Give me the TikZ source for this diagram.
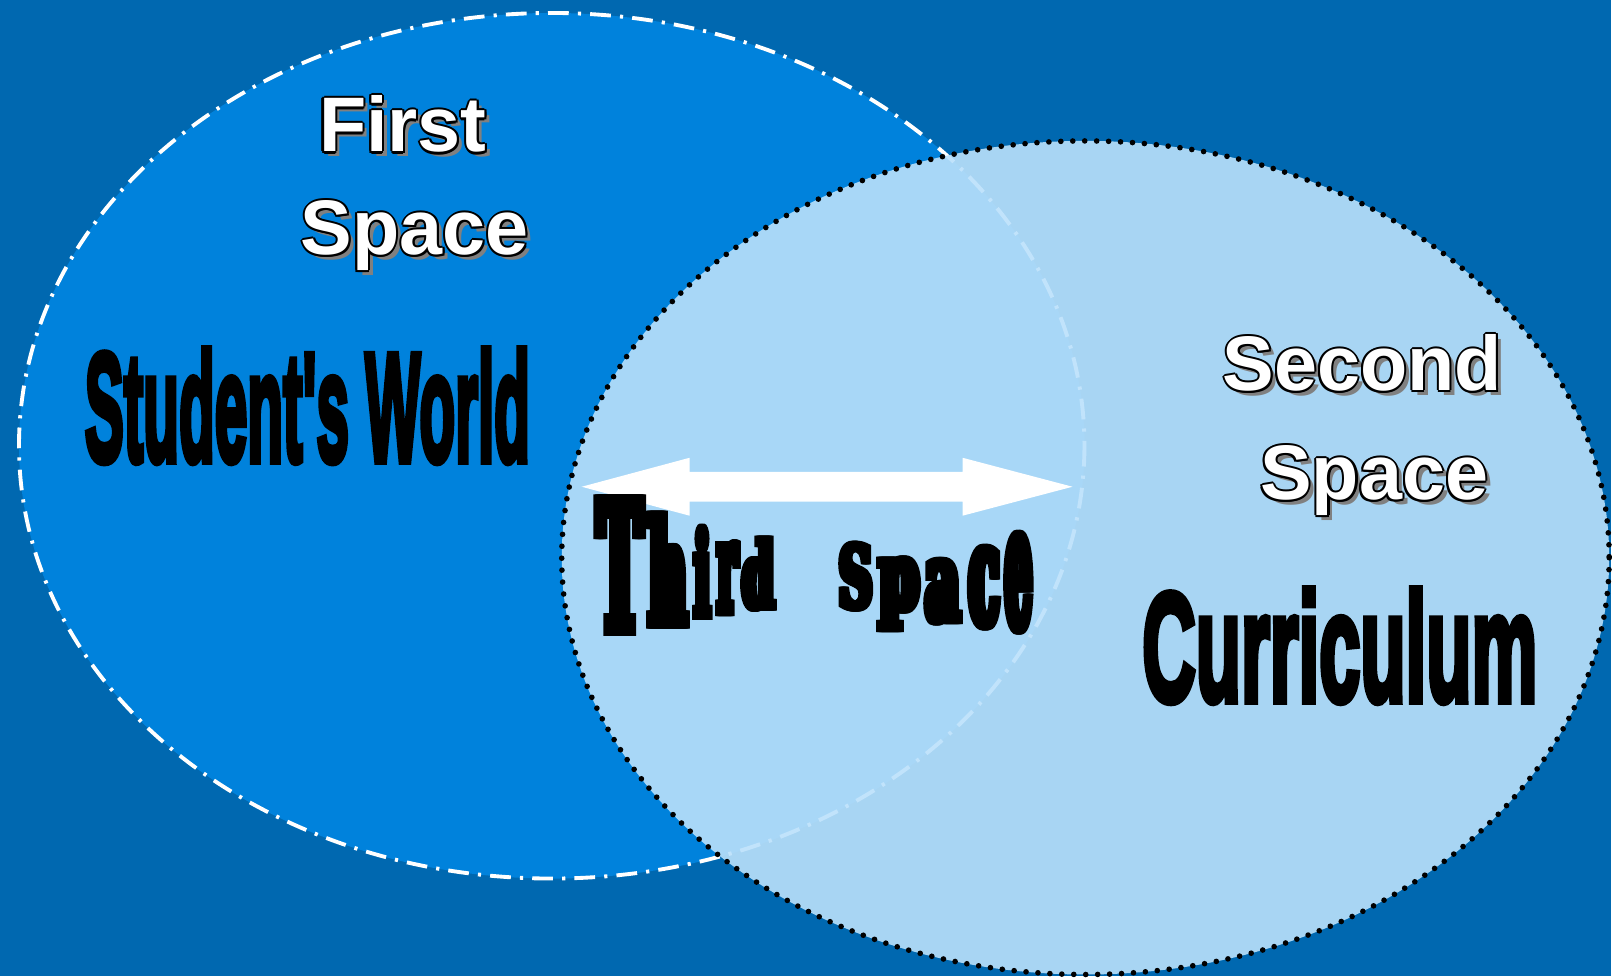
\documentclass[tikz,border=0pt]{standalone}
\usepackage{fontspec}
\usepackage{graphicx}
\usepackage{xcolor}
\newfontfamily\labelfont{Liberation Sans}
\newfontfamily\heavyfont{Liberation Sans}[BoldFeatures={FakeBold=5}]
\newfontfamily\slabfont{DejaVu Serif}[BoldFeatures={FakeBold=7}]
\definecolor{deepblue}{RGB}{0,104,176}
\definecolor{firstblue}{RGB}{0,130,220}
\definecolor{secondblue}{RGB}{187,225,251}
\definecolor{shadegray}{RGB}{128,128,128}
% white letters, black rim, grey shadow
\newcommand\ringtext[1]{%
  \makebox[0pt][l]{\kern1.4pt\raisebox{-1.4pt}{\textcolor{shadegray}{#1}}}%
  \makebox[0pt][l]{\kern-0.6pt\textcolor{black}{#1}}%
  \makebox[0pt][l]{\kern0.6pt\textcolor{black}{#1}}%
  \makebox[0pt][l]{\raisebox{0.6pt}{\textcolor{black}{#1}}}%
  \makebox[0pt][l]{\raisebox{-0.6pt}{\textcolor{black}{#1}}}%
  \makebox[0pt][l]{\kern-0.42pt\raisebox{0.42pt}{\textcolor{black}{#1}}}%
  \makebox[0pt][l]{\kern0.42pt\raisebox{0.42pt}{\textcolor{black}{#1}}}%
  \makebox[0pt][l]{\kern-0.42pt\raisebox{-0.42pt}{\textcolor{black}{#1}}}%
  \makebox[0pt][l]{\kern0.42pt\raisebox{-0.42pt}{\textcolor{black}{#1}}}%
  \textcolor{white}{#1}}
% heavier glyph for the word art
\newcommand\fatglyph[1]{%
  \makebox[0pt][l]{\kern-0.05em#1}\makebox[0pt][l]{\kern-0.025em#1}%
  \makebox[0pt][l]{\kern0.025em#1}\makebox[0pt][l]{\kern0.05em#1}#1}

\begin{document}
\begin{tikzpicture}[x=0.01cm,y=-0.01cm,
  spacelabel/.style={inner sep=0,anchor=base,font=\labelfont\bfseries\fontsize{22}{26}\selectfont},
  bigword/.style={inner sep=0,font=\heavyfont\bfseries},
  wordart/.style={inner sep=0,font=\slabfont\bfseries}]
\fill[deepblue] (0,0) rectangle (1612,976);
% first space
\fill[firstblue] (552,446) ellipse [x radius=533,y radius=433];
\draw[white,line width=1.1pt,dash pattern=on 5.9pt off 2.6pt on 0.9pt off 2.6pt] (552,446) ellipse [x radius=533,y radius=433];
% second space
\fill[secondblue,fill opacity=0.9] (1086,558) ellipse [x radius=524,y radius=417];
\draw[black,line width=1.6pt,line cap=round,dash pattern=on 0pt off 3.4pt] (1086,558) ellipse [x radius=524,y radius=417];
% two-way arrow
\fill[white] (582,487) -- (690,458) -- (690,472) -- (963,472) -- (963,458) -- (1073,487)
  -- (963,516) -- (963,502) -- (690,502) -- (690,516) -- cycle;

\node[spacelabel] (first) at (403,152) {\ringtext{First}};
\node[spacelabel] (firstsp) at (415,255) {\ringtext{Space}};
\node[spacelabel] (second) at (1363,391) {\ringtext{Second}};
\node[spacelabel] (secondsp) at (1375,500) {\ringtext{Space}};

\node[bigword] (world) at (307.5,406) {\resizebox{4.45cm}{1.12cm}{Student's World}};
\node[bigword] (curric) at (1340.5,646) {\resizebox{3.95cm}{1.12cm}{Curriculum}};

% warped third space, letter by letter
\foreach \ch/\cx/\cy/\w/\h [count=\i] in {T/620/565.5/0.44/1.29, h/668/570/0.38/1.08,
    i/702.5/572/0.16/0.88, r/727.5/578/0.20/0.68, d/758.5/574/0.32/0.70,
    S/856/576.5/0.33/0.65, p/899.5/594/0.39/0.70, a/943/591.5/0.34/0.61,
    c/984.5/587.5/0.30/0.77, e/1019/582.5/0.27/0.93}
  \node[wordart] (third\i) at (\cx,\cy) {\resizebox*{\w cm}{\h cm}{\fatglyph{\ch}}};
\end{tikzpicture}
\end{document}
